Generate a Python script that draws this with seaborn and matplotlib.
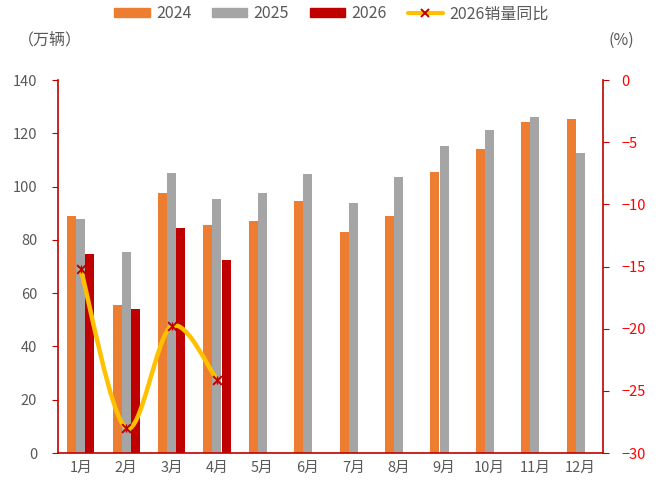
import numpy as np
import pandas as pd
import matplotlib
matplotlib.use("Agg")
import matplotlib.pyplot as plt
import seaborn as sns
from matplotlib.path import Path
from matplotlib.patches import PathPatch, Patch
from matplotlib.lines import Line2D

months = ["1月", "2月", "3月", "4月", "5月", "6月", "7月", "8月", "9月", "10月", "11月", "12月"]
sales_2024 = [89.0, 55.6, 97.6, 85.6, 87.1, 94.6, 83.0, 89.0, 105.5, 114.1, 124.2, 125.4]
sales_2025 = [87.8, 75.4, 105.1, 95.3, 97.6, 104.7, 93.8, 103.6, 115.2, 121.2, 126.1, 112.6]
sales_2026 = [74.7, 54.1, 84.5, 72.4]
yoy_2026 = [-15.2, -28.0, -19.8, -24.1]

c24, c25, c26 = "#ED7D31", "#A5A5A5", "#C00000"
line_c = "#FFC000"
axis_c = "#C00000"
text_c = "#595959"

sns.set_style("white")
plt.rcParams["font.family"] = ["Noto Sans CJK SC", "DejaVu Sans"]

rows = []
for i, m in enumerate(months):
    rows.append((m, "2024", sales_2024[i]))
    rows.append((m, "2025", sales_2025[i]))
    if i < len(sales_2026):
        rows.append((m, "2026", sales_2026[i]))
df = pd.DataFrame(rows, columns=["month", "year", "sales"])

fig = plt.figure(figsize=(6.63, 4.86), dpi=100)
ax = fig.add_axes([58 / 663, 1 - 453 / 486, 545 / 663, 373 / 486])

sns.barplot(data=df, x="month", y="sales", hue="year", order=months,
            hue_order=["2024", "2025", "2026"],
            palette=[c24, c25, c26], saturation=1, width=0.6, errorbar=None,
            linewidth=0, ax=ax, legend=False)
ax.set_xlim(-0.5, 11.5)
ax.set_ylim(0, 140)
ax.set_yticks(np.arange(0, 141, 20))
ax.set_xlabel("")
ax.set_ylabel("")

ax2 = ax.twinx()
ax2.set_ylim(-30, 0)
ax2.set_yticks(np.arange(-30, 1, 5))

# smoothed line (Bezier through the points, like a spreadsheet smooth line)
xs = np.arange(len(yoy_2026), dtype=float)
ys = np.array(yoy_2026)
verts = [(xs[0], ys[0])]
codes = [Path.MOVETO]
n = len(xs)
for i in range(n - 1):
    p0 = np.array([xs[max(i - 1, 0)], ys[max(i - 1, 0)]])
    p1 = np.array([xs[i], ys[i]])
    p2 = np.array([xs[i + 1], ys[i + 1]])
    p3 = np.array([xs[min(i + 2, n - 1)], ys[min(i + 2, n - 1)]])
    c1 = p1 + (p2 - p0) / 6
    c2 = p2 - (p3 - p1) / 6
    verts += [tuple(c1), tuple(c2), tuple(p2)]
    codes += [Path.CURVE4] * 3
ax2.add_patch(PathPatch(Path(verts, codes), facecolor="none", edgecolor=line_c,
                        lw=3.2, capstyle="round", zorder=3))
ax2.scatter(xs, ys, marker="x", s=40, color=axis_c, linewidths=1.4, zorder=4)
ax2.scatter(xs, ys, marker="|", s=30, color=axis_c, linewidths=1.0, zorder=4)

for a in (ax, ax2):
    a.spines["top"].set_visible(False)
    for s in ("left", "right", "bottom"):
        a.spines[s].set_color(axis_c)
        a.spines[s].set_linewidth(1.2)
ax.spines["right"].set_visible(False)
ax2.spines["left"].set_visible(False)
ax2.spines["bottom"].set_visible(False)

ax.tick_params(axis="y", direction="out", length=4, color=axis_c, labelcolor=text_c,
               labelsize=10.5, pad=11)
ax.tick_params(axis="x", which="major", length=0, labelcolor=text_c, labelsize=10.5, pad=6)
ax.set_xticks(np.arange(-0.5, 12, 1), minor=True)
ax.tick_params(axis="x", which="minor", direction="out", length=4, color=axis_c)
ax2.tick_params(axis="y", direction="out", length=4, color=axis_c, labelcolor="#FF0000",
                labelsize=10.5, pad=9)

fig.text(18 / 663, 1 - 40 / 486, "（万辆）", fontsize=11.5, color=text_c, va="center", ha="left")
fig.text(608 / 663, 1 - 40 / 486, "(%)", fontsize=11.5, color=text_c, va="center", ha="left")

handles = [Patch(color=c24, label="2024"), Patch(color=c25, label="2025"),
           Patch(color=c26, label="2026"),
           Line2D([], [], color=line_c, lw=3, marker="x", mec=axis_c, ms=6, mew=1.4,
                  label="2026销量同比")]
fig.legend(handles=handles, loc="center", bbox_to_anchor=(0.5, 1 - 14 / 486), ncol=4,
           frameon=False, fontsize=11.5, handlelength=2.2, handleheight=0.5,
           columnspacing=1.3, handletextpad=0.4, labelcolor=text_c)

fig.savefig("out.png", dpi=100)
